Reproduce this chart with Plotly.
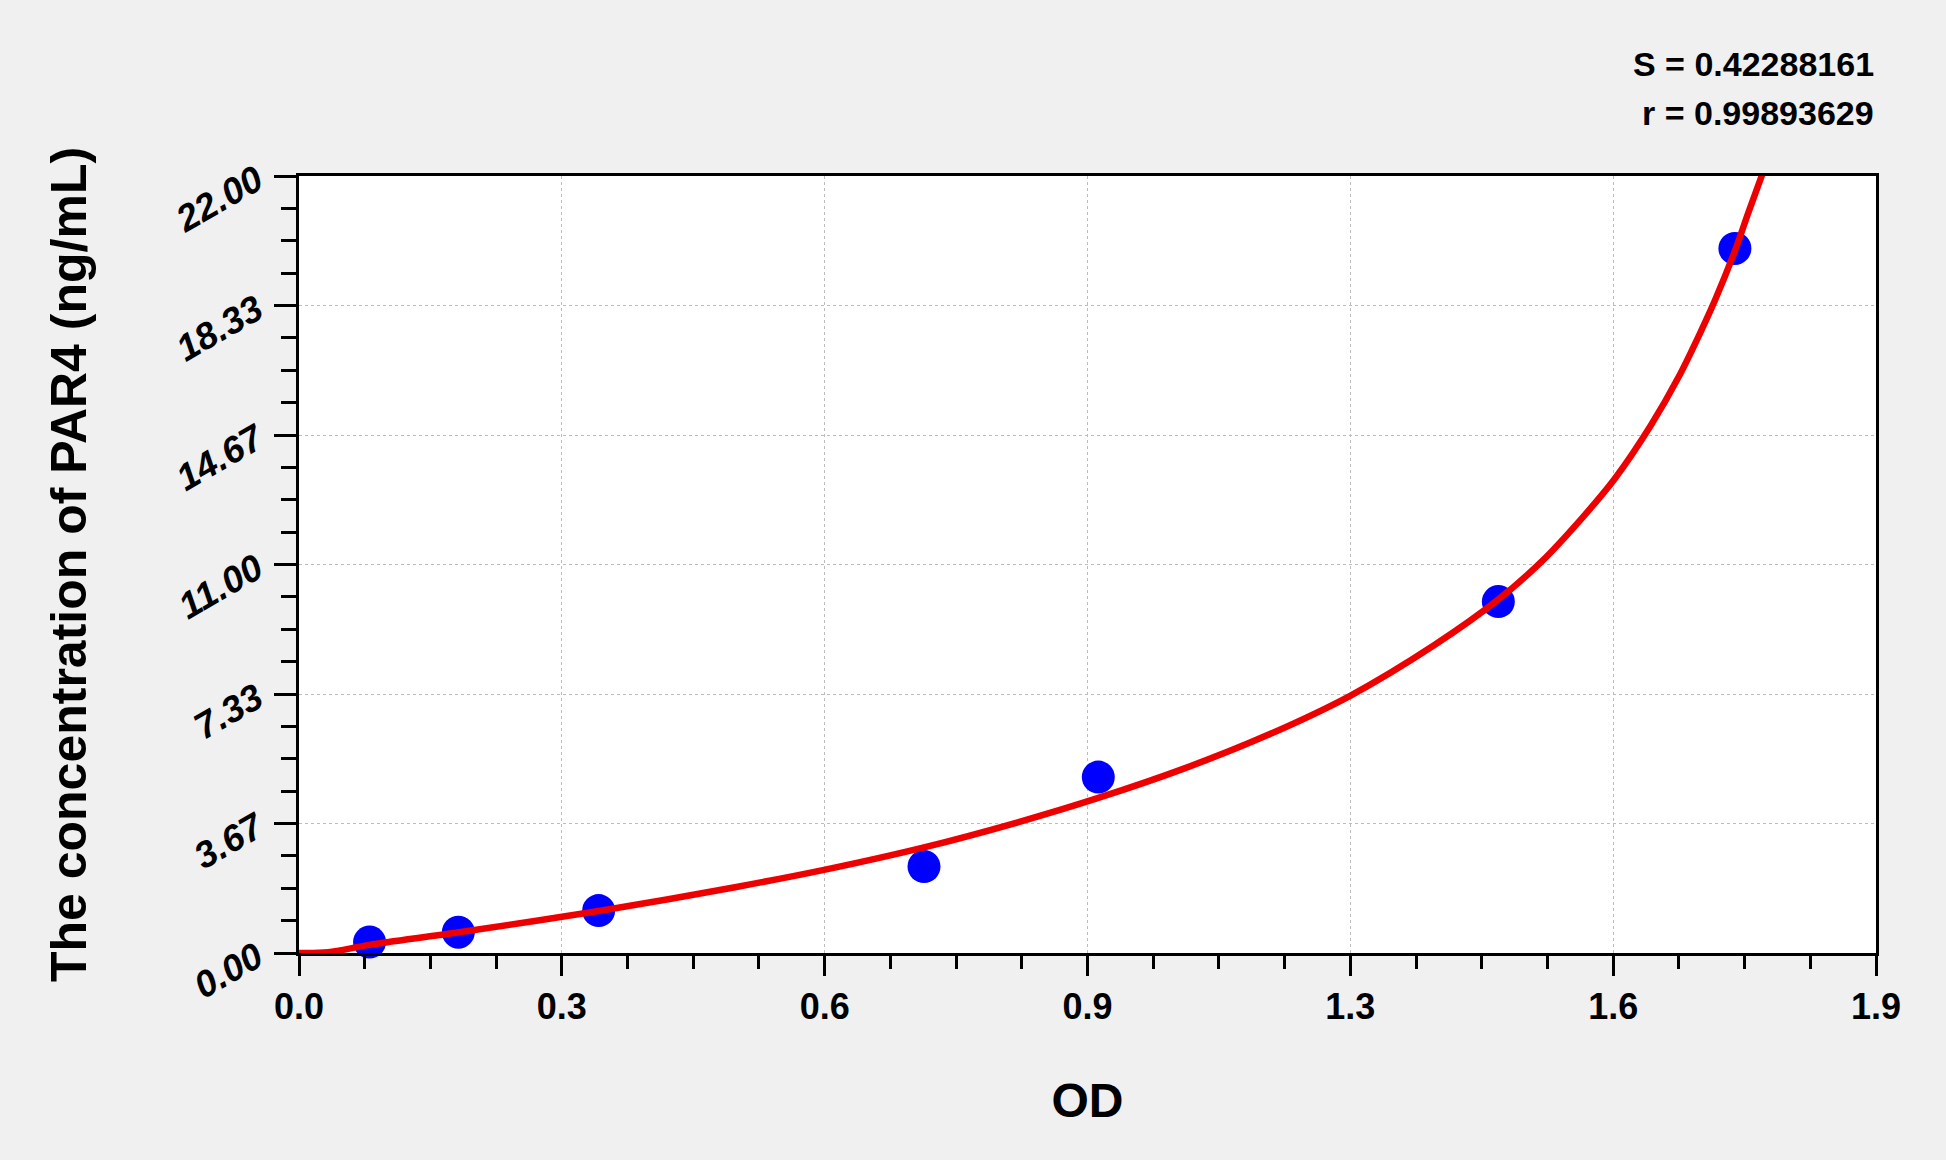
import plotly.graph_objects as go

# Standard points (OD vs concentration)
od_points = [0.085, 0.192, 0.361, 0.753, 0.963, 1.445, 1.730]
conc_points = [0.31, 0.59, 1.20, 2.45, 4.98, 9.95, 19.95]

# Fitted curve
curve_od = [0.0, 0.035, 0.085, 0.193, 0.365, 0.527, 0.634, 0.753, 0.866, 0.963,
            1.066, 1.167, 1.267, 1.368, 1.444, 1.497, 1.549, 1.585, 1.629, 1.662,
            1.690, 1.706, 1.730, 1.746, 1.763]
curve_conc = [0.0, 0.02, 0.23, 0.585, 1.205, 1.87, 2.36, 2.99, 3.70, 4.39,
              5.22, 6.17, 7.29, 8.72, 9.99, 11.08, 12.40, 13.42, 14.95, 16.30,
              17.65, 18.48, 19.88, 20.95, 22.05]

x_tick_labels = ["0.0", "0.3", "0.6", "0.9", "1.3", "1.6", "1.9"]
y_tick_labels = ["0.00", "3.67", "7.33", "11.00", "14.67", "18.33", "22.00"]
x_max = 1.9
y_max = 22.0
x_tick_vals = [i * x_max / 6 for i in range(7)]
y_tick_vals = [i * y_max / 6 for i in range(7)]

stats_lines = ["S = 0.42288161", "r = 0.99893629"]

FONT = "Liberation Sans, Arial, sans-serif"

fig = go.Figure()
fig.add_trace(go.Scatter(
    x=od_points, y=conc_points, mode="markers",
    marker=dict(color="#0000ff", size=33, line=dict(width=0)),
    showlegend=False, cliponaxis=False,
))
fig.add_trace(go.Scatter(
    x=curve_od, y=curve_conc, mode="lines",
    line=dict(color="#ee0000", width=6.5, shape="spline", smoothing=0.9),
    showlegend=False,
))

axis_common = dict(
    showline=True, linecolor="black", linewidth=3, mirror=True,
    ticks="outside", tickcolor="black", tickwidth=3,
    showgrid=True, gridcolor="#bcbcbc", gridwidth=1, griddash="dot",
    zeroline=False, tickmode="array",
)

fig.update_xaxes(
    **axis_common,
    range=[0, x_max], tickvals=x_tick_vals, ticktext=x_tick_labels,
    ticklen=20,
    tickfont=dict(family=FONT, size=36, color="black", weight="bold"),
    minor=dict(tickmode="linear", tick0=0, dtick=x_max / 24, ticklen=13,
               tickwidth=3, tickcolor="black", ticks="outside", showgrid=False),
    title=dict(text="OD", font=dict(family=FONT, size=48, color="black", weight="bold"),
               standoff=58),
)
fig.update_yaxes(
    **axis_common,
    range=[0, y_max], tickvals=y_tick_vals, ticktext=y_tick_labels,
    ticklen=22, tickangle=-30, ticklabelstandoff=10,
    tickfont=dict(family=FONT, size=37, color="black", weight="bold", style="italic"),
    minor=dict(tickmode="linear", tick0=0, dtick=y_max / 24, ticklen=15,
               tickwidth=3, tickcolor="black", ticks="outside", showgrid=False),
    title=dict(text="The concentration of PAR4 (ng/mL)",
               font=dict(family=FONT, size=50, color="black", weight="bold"),
               standoff=66),
)

for i, line in enumerate(stats_lines):
    fig.add_annotation(
        text=line, xref="paper", yref="paper", x=1.0, y=1.144 - i * 0.063,
        xanchor="right", yanchor="middle", showarrow=False,
        font=dict(family=FONT, size=34, color="black", weight="bold"),
    )

fig.update_layout(
    width=1946, height=1160,
    margin=dict(l=299, r=70, t=176, b=207, autoexpand=False),
    paper_bgcolor="#f0f0f0", plot_bgcolor="white",
)

fig.write_html("out.html", config={"displayModeBar": False},
               post_script="document.body.style.margin='0';")
